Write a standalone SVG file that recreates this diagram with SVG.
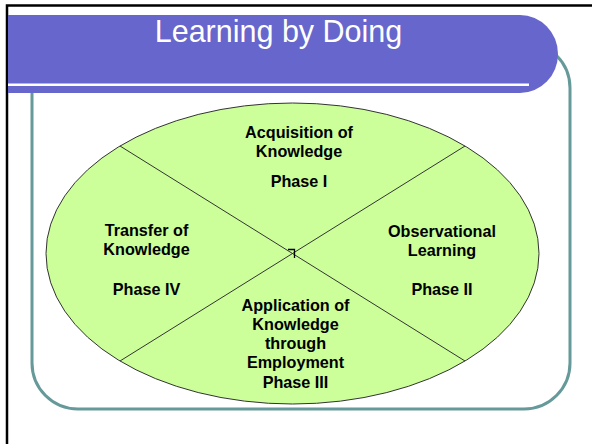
<svg xmlns="http://www.w3.org/2000/svg" width="592" height="444" viewBox="0 0 592 444">
<style>
.lbl{font-family:"Liberation Sans",Arial,sans-serif;font-weight:bold;font-size:16.2px;fill:#000;text-anchor:middle}
.div{stroke:#333;stroke-width:1;fill:none}
</style>
<rect width="592" height="444" fill="#fff"/>
<rect x="7" y="5.5" width="600" height="460" fill="none" stroke="#000" stroke-width="2.5"/>
<g id="frame">
<rect x="32" y="42" width="538" height="367" rx="46" ry="46" fill="none" stroke="#669999" stroke-width="3"/>
</g>
<g id="header">
<path d="M8 15 H520 A38 39 0 0 1 558 54 A38 39 0 0 1 520 93 H8 Z" fill="#6666CC"/>
<rect x="8" y="83.5" width="521" height="2.5" fill="#fff"/>
<text x="278.5" y="42" font-family="'Liberation Sans',Arial,sans-serif" font-size="30.5" fill="#fff" text-anchor="middle">Learning by Doing</text>
</g>
<g id="ellipse">
<ellipse cx="292.5" cy="253.5" rx="246.5" ry="150.5" fill="#CCFF99" stroke="#333" stroke-width="1"/>
</g>
<g id="connectors">
<line class="div" x1="120" y1="146" x2="465" y2="361"/>
<line class="div" x1="120" y1="361" x2="465" y2="146"/>
<path d="M288 249.5 H294.5 V258" fill="none" stroke="#000" stroke-width="1.3"/>
</g>
<g id="phase1">
<text class="lbl" x="299" y="138">Acquisition of</text>
<text class="lbl" x="299" y="157">Knowledge</text>
<text class="lbl" x="299" y="187">Phase I</text>
</g>
<g id="phase4">
<text class="lbl" x="146.5" y="236">Transfer of</text>
<text class="lbl" x="146.5" y="255">Knowledge</text>
<text class="lbl" x="146.5" y="295">Phase IV</text>
</g>
<g id="phase2">
<text class="lbl" x="442" y="236.5">Observational</text>
<text class="lbl" x="442" y="255.5">Learning</text>
<text class="lbl" x="442" y="295">Phase II</text>
</g>
<g id="phase3">
<text class="lbl" x="295.5" y="310.5">Application of</text>
<text class="lbl" x="295.5" y="329.5">Knowledge</text>
<text class="lbl" x="295.5" y="349">through</text>
<text class="lbl" x="295.5" y="368">Employment</text>
<text class="lbl" x="295.5" y="387.5">Phase III</text>
</g>
</svg>
